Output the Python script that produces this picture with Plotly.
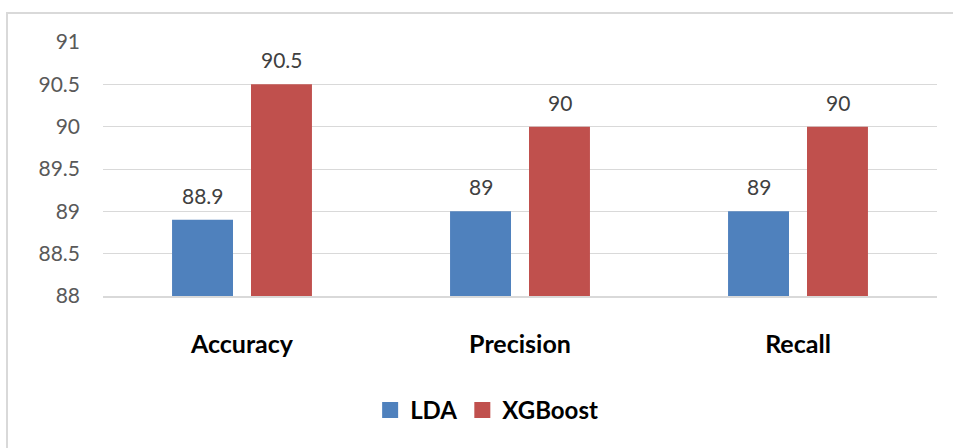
import plotly.graph_objects as go

# Chart data
categories = ["Accuracy", "Precision", "Recall"]
lda_values = [88.9, 89, 89]
xgb_values = [90.5, 90, 90]
y_ticks = [88, 88.5, 89, 89.5, 90, 90.5, 91]
y_tick_labels = ["88", "88.5", "89", "89.5", "90", "90.5", "91"]
series_names = ["LDA", "XGBoost"]

BLUE = "#4F81BD"
RED = "#C0504D"
FONT = "Lato, 'Open Sans', sans-serif"

fig = go.Figure()
fig.add_trace(go.Bar(name=series_names[0], x=categories, y=lda_values, marker_color=BLUE,
                     marker_line_width=0, showlegend=False))
fig.add_trace(go.Bar(name=series_names[1], x=categories, y=xgb_values, marker_color=RED,
                     marker_line_width=0, showlegend=False))

# legend entries with larger square swatches
for name, color in zip(series_names, (BLUE, RED)):
    fig.add_trace(go.Scatter(
        name=name, x=[None], y=[None], mode="markers",
        marker=dict(symbol="square", size=17, color=color, line_width=0),
        showlegend=True, hoverinfo="skip",
    ))

# value labels above each bar
annotations = []
for series, shift in ((lda_values, -39.5), (xgb_values, 39.5)):
    for cat, val in zip(categories, series):
        annotations.append(dict(
            x=cat, y=val, xref="x", yref="y", text=f"{val:g}",
            showarrow=False, xshift=shift, yanchor="bottom", yshift=10,
            font=dict(family=FONT, size=21, color="#404040"),
        ))

fig.update_layout(
    width=953, height=448,
    margin=dict(l=103, r=16, t=42, b=152),
    paper_bgcolor="white", plot_bgcolor="white",
    barmode="group", bargap=0.432, bargroupgap=0.228,
    font=dict(family=FONT),
    showlegend=True,
    legend=dict(
        orientation="h", x=0.46, xanchor="center", y=-0.45, yanchor="middle",
        font=dict(family=FONT, size=24, color="black", weight="bold"),
        itemwidth=30, traceorder="normal",
    ),
    annotations=annotations,
    shapes=[dict(
        type="rect", xref="paper", yref="paper",
        x0=(7 - 103) / 834, x1=(960 - 103) / 834,
        y0=(296 - 460) / 254, y1=(296 - 13) / 254,
        line=dict(color="#D9D9D9", width=2), layer="below",
    )],
)

fig.update_xaxes(
    showgrid=False, showline=True, linecolor="#D9D9D9", linewidth=2,
    ticks="", ticklabelstandoff=25,
    tickfont=dict(family=FONT, size=25, color="black", weight="bold"),
)
fig.update_yaxes(
    range=[88, 91], tickvals=y_ticks, ticktext=y_tick_labels,
    showgrid=True, gridcolor="#D9D9D9", gridwidth=1,
    zeroline=False, showline=False, ticks="",
    ticklabelstandoff=22,
    tickfont=dict(family=FONT, size=21, color="#595959"),
)

fig.write_html("out.html")
